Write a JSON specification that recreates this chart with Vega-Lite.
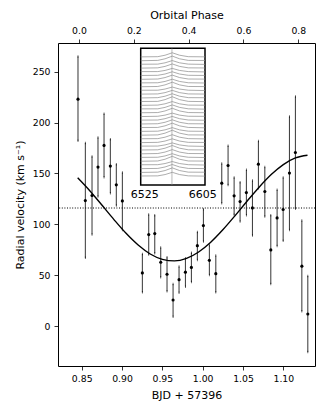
{
  "$schema": "https://vega.github.io/schema/vega-lite/v6.json",
  "width": 257,
  "height": 323,
  "autosize": {"type": "none"},
  "padding": {"left": 58, "top": 43, "right": 14, "bottom": 47},
  "background": "white",
  "config": {
    "font": "DejaVu Sans",
    "view": {"stroke": "black", "strokeWidth": 1},
    "axis": {
      "grid": false, "domain": false, "tickColor": "black", "tickSize": 4, "tickWidth": 0.8,
      "labelColor": "black", "labelFontSize": 9.3, "labelFont": "DejaVu Sans",
      "titleFont": "DejaVu Sans", "titleFontSize": 11, "titleFontWeight": "normal", "titleColor": "black",
      "labelPadding": 4, "titlePadding": 6
    }
  },
  "datasets": {
    "rv": [
      {"t":0.8454,"rv":223,"lo":182,"hi":265},
      {"t":0.8545,"rv":123.3,"lo":67,"hi":180},
      {"t":0.8628,"rv":128.3,"lo":90,"hi":166.7},
      {"t":0.8702,"rv":156.2,"lo":127.3,"hi":185.3},
      {"t":0.8777,"rv":177.5,"lo":146.3,"hi":208.7},
      {"t":0.8855,"rv":157.2,"lo":130.6,"hi":183.7},
      {"t":0.8929,"rv":138.8,"lo":118.4,"hi":159.1},
      {"t":0.9004,"rv":123,"lo":94.5,"hi":150.9},
      {"t":0.9252,"rv":52.2,"lo":33.1,"hi":70.9},
      {"t":0.9331,"rv":89.9,"lo":70.2,"hi":109.6},
      {"t":0.9406,"rv":90.9,"lo":71.5,"hi":109},
      {"t":0.948,"rv":62.7,"lo":47.9,"hi":77.1},
      {"t":0.9558,"rv":50.9,"lo":34.1,"hi":67.6},
      {"t":0.9633,"rv":25.6,"lo":9.2,"hi":41.3},
      {"t":0.9707,"rv":45.6,"lo":32.8,"hi":58.4},
      {"t":0.9786,"rv":52.9,"lo":38.7,"hi":66.6},
      {"t":0.986,"rv":57.6,"lo":43.3,"hi":72.1},
      {"t":0.9934,"rv":79,"lo":65,"hi":92.5},
      {"t":1.0009,"rv":98.7,"lo":83,"hi":114.8},
      {"t":1.0083,"rv":64.6,"lo":50.2,"hi":79.4},
      {"t":1.0163,"rv":51.5,"lo":33.1,"hi":69.2},
      {"t":1.0237,"rv":140.4,"lo":120.7,"hi":159.7},
      {"t":1.0315,"rv":157.8,"lo":138.5,"hi":177.2},
      {"t":1.039,"rv":128,"lo":109.3,"hi":146},
      {"t":1.0464,"rv":122.3,"lo":102.7,"hi":141.4},
      {"t":1.0542,"rv":131.2,"lo":109,"hi":153.5},
      {"t":1.0617,"rv":116.1,"lo":88.9,"hi":143},
      {"t":1.0691,"rv":159.1,"lo":135.5,"hi":181.8},
      {"t":1.0771,"rv":132.2,"lo":107.6,"hi":156.2},
      {"t":1.0845,"rv":74.8,"lo":41.3,"hi":109},
      {"t":1.0923,"rv":106.3,"lo":78.7,"hi":133.9},
      {"t":1.0998,"rv":114.5,"lo":83.7,"hi":146},
      {"t":1.1076,"rv":150.3,"lo":94.5,"hi":206},
      {"t":1.115,"rv":170.6,"lo":115.2,"hi":225.7},
      {"t":1.123,"rv":58.8,"lo":14.5,"hi":103.6},
      {"t":1.1304,"rv":11.8,"lo":-25.6,"hi":49.2}
    ],
    "fit": [
      {"t":0.845,"v":145.7},{"t":0.86,"v":133.0},{"t":0.875,"v":118.9},{"t":0.89,"v":104.6},
      {"t":0.905,"v":91.1},{"t":0.92,"v":79.6},{"t":0.935,"v":70.8},{"t":0.95,"v":65.5},
      {"t":0.965,"v":64.0},{"t":0.98,"v":66.5},{"t":0.995,"v":72.8},{"t":1.01,"v":82.4},
      {"t":1.025,"v":94.6},{"t":1.04,"v":108.3},{"t":1.055,"v":122.7},{"t":1.07,"v":136.5},
      {"t":1.085,"v":148.9},{"t":1.1,"v":158.7},{"t":1.115,"v":165.2},{"t":1.13,"v":167.9}
    ],
    "gamma": [{"g":116}],
    "phase": [{"p":0},{"p":0.8}],
    "labels": [{"w":6525,"t":"6525"},{"w":6605,"t":"6605"}],
    "spec": [
      {"s":0,"w":6519.5,"f":0.02},{"s":0,"w":6543,"f":0.05},{"s":0,"w":6553,"f":0.4},{"s":0,"w":6563,"f":1.0},{"s":0,"w":6573,"f":0.4},{"s":0,"w":6585,"f":0.05},{"s":0,"w":6608,"f":-0.02},
      {"s":1,"w":6519.5,"f":0.97},{"s":1,"w":6543,"f":1.05},{"s":1,"w":6553,"f":1.48},{"s":1,"w":6563,"f":2.2},{"s":1,"w":6573,"f":1.48},{"s":1,"w":6585,"f":1.05},{"s":1,"w":6608,"f":1.03},
      {"s":2,"w":6519.5,"f":2.0},{"s":2,"w":6543,"f":2.05},{"s":2,"w":6553,"f":2.44},{"s":2,"w":6563,"f":3.1},{"s":2,"w":6573,"f":2.44},{"s":2,"w":6585,"f":2.05},{"s":2,"w":6608,"f":2.01},
      {"s":3,"w":6519.5,"f":3.04},{"s":3,"w":6543,"f":3.05},{"s":3,"w":6553,"f":3.36},{"s":3,"w":6563,"f":3.9},{"s":3,"w":6573,"f":3.36},{"s":3,"w":6585,"f":3.05},{"s":3,"w":6608,"f":2.96},
      {"s":4,"w":6519.5,"f":3.98},{"s":4,"w":6543,"f":4.05},{"s":4,"w":6553,"f":4.52},{"s":4,"w":6563,"f":5.3},{"s":4,"w":6573,"f":4.52},{"s":4,"w":6585,"f":4.05},{"s":4,"w":6608,"f":4.02},
      {"s":5,"w":6519.5,"f":5.02},{"s":5,"w":6543,"f":5.05},{"s":5,"w":6553,"f":5.4},{"s":5,"w":6563,"f":6.0},{"s":5,"w":6573,"f":5.4},{"s":5,"w":6585,"f":5.05},{"s":5,"w":6608,"f":4.98},
      {"s":6,"w":6519.5,"f":5.97},{"s":6,"w":6543,"f":6.05},{"s":6,"w":6553,"f":6.44},{"s":6,"w":6563,"f":7.1},{"s":6,"w":6573,"f":6.44},{"s":6,"w":6585,"f":6.05},{"s":6,"w":6608,"f":6.03},
      {"s":7,"w":6519.5,"f":7.0},{"s":7,"w":6543,"f":7.05},{"s":7,"w":6553,"f":7.48},{"s":7,"w":6563,"f":8.2},{"s":7,"w":6573,"f":7.48},{"s":7,"w":6585,"f":7.05},{"s":7,"w":6608,"f":7.01},
      {"s":8,"w":6519.5,"f":8.04},{"s":8,"w":6543,"f":8.05},{"s":8,"w":6553,"f":8.36},{"s":8,"w":6563,"f":8.9},{"s":8,"w":6573,"f":8.36},{"s":8,"w":6585,"f":8.05},{"s":8,"w":6608,"f":7.96},
      {"s":9,"w":6519.5,"f":8.98},{"s":9,"w":6543,"f":9.05},{"s":9,"w":6553,"f":9.4},{"s":9,"w":6563,"f":10.0},{"s":9,"w":6573,"f":9.4},{"s":9,"w":6585,"f":9.05},{"s":9,"w":6608,"f":9.02},
      {"s":10,"w":6519.5,"f":10.02},{"s":10,"w":6543,"f":10.05},{"s":10,"w":6553,"f":10.44},{"s":10,"w":6563,"f":11.1},{"s":10,"w":6573,"f":10.44},{"s":10,"w":6585,"f":10.05},{"s":10,"w":6608,"f":9.98},
      {"s":11,"w":6519.5,"f":10.97},{"s":11,"w":6543,"f":11.05},{"s":11,"w":6553,"f":11.52},{"s":11,"w":6563,"f":12.3},{"s":11,"w":6573,"f":11.52},{"s":11,"w":6585,"f":11.05},{"s":11,"w":6608,"f":11.03},
      {"s":12,"w":6519.5,"f":12.0},{"s":12,"w":6543,"f":12.05},{"s":12,"w":6553,"f":12.4},{"s":12,"w":6563,"f":13.0},{"s":12,"w":6573,"f":12.4},{"s":12,"w":6585,"f":12.05},{"s":12,"w":6608,"f":12.01},
      {"s":13,"w":6519.5,"f":13.04},{"s":13,"w":6543,"f":13.05},{"s":13,"w":6553,"f":13.48},{"s":13,"w":6563,"f":14.2},{"s":13,"w":6573,"f":13.48},{"s":13,"w":6585,"f":13.05},{"s":13,"w":6608,"f":12.96},
      {"s":14,"w":6519.5,"f":13.98},{"s":14,"w":6543,"f":14.05},{"s":14,"w":6553,"f":14.44},{"s":14,"w":6563,"f":15.1},{"s":14,"w":6573,"f":14.44},{"s":14,"w":6585,"f":14.05},{"s":14,"w":6608,"f":14.02},
      {"s":15,"w":6519.5,"f":15.02},{"s":15,"w":6543,"f":15.05},{"s":15,"w":6553,"f":15.4},{"s":15,"w":6563,"f":16.0},{"s":15,"w":6573,"f":15.4},{"s":15,"w":6585,"f":15.05},{"s":15,"w":6608,"f":14.98},
      {"s":16,"w":6519.5,"f":15.97},{"s":16,"w":6543,"f":16.05},{"s":16,"w":6553,"f":16.36},{"s":16,"w":6563,"f":16.9},{"s":16,"w":6573,"f":16.36},{"s":16,"w":6585,"f":16.05},{"s":16,"w":6608,"f":16.03},
      {"s":17,"w":6519.5,"f":17.0},{"s":17,"w":6543,"f":17.05},{"s":17,"w":6553,"f":17.48},{"s":17,"w":6563,"f":18.2},{"s":17,"w":6573,"f":17.48},{"s":17,"w":6585,"f":17.05},{"s":17,"w":6608,"f":17.01},
      {"s":18,"w":6519.5,"f":18.04},{"s":18,"w":6543,"f":18.05},{"s":18,"w":6553,"f":18.44},{"s":18,"w":6563,"f":19.1},{"s":18,"w":6573,"f":18.44},{"s":18,"w":6585,"f":18.05},{"s":18,"w":6608,"f":17.96},
      {"s":19,"w":6519.5,"f":18.98},{"s":19,"w":6543,"f":19.05},{"s":19,"w":6553,"f":19.4},{"s":19,"w":6563,"f":20.0},{"s":19,"w":6573,"f":19.4},{"s":19,"w":6585,"f":19.05},{"s":19,"w":6608,"f":19.02},
      {"s":20,"w":6519.5,"f":20.02},{"s":20,"w":6543,"f":20.05},{"s":20,"w":6553,"f":20.52},{"s":20,"w":6563,"f":21.3},{"s":20,"w":6573,"f":20.52},{"s":20,"w":6585,"f":20.05},{"s":20,"w":6608,"f":19.98},
      {"s":21,"w":6519.5,"f":20.97},{"s":21,"w":6543,"f":21.05},{"s":21,"w":6553,"f":21.44},{"s":21,"w":6563,"f":22.1},{"s":21,"w":6573,"f":21.44},{"s":21,"w":6585,"f":21.05},{"s":21,"w":6608,"f":21.03},
      {"s":22,"w":6519.5,"f":22.0},{"s":22,"w":6543,"f":22.05},{"s":22,"w":6553,"f":22.4},{"s":22,"w":6563,"f":23.0},{"s":22,"w":6573,"f":22.4},{"s":22,"w":6585,"f":22.05},{"s":22,"w":6608,"f":22.01},
      {"s":23,"w":6519.5,"f":23.04},{"s":23,"w":6543,"f":23.05},{"s":23,"w":6553,"f":23.36},{"s":23,"w":6563,"f":23.9},{"s":23,"w":6573,"f":23.36},{"s":23,"w":6585,"f":23.05},{"s":23,"w":6608,"f":22.96},
      {"s":24,"w":6519.5,"f":23.98},{"s":24,"w":6543,"f":24.05},{"s":24,"w":6553,"f":24.48},{"s":24,"w":6563,"f":25.2},{"s":24,"w":6573,"f":24.48},{"s":24,"w":6585,"f":24.05},{"s":24,"w":6608,"f":24.02},
      {"s":25,"w":6519.5,"f":25.02},{"s":25,"w":6543,"f":25.05},{"s":25,"w":6553,"f":25.4},{"s":25,"w":6563,"f":26.0},{"s":25,"w":6573,"f":25.4},{"s":25,"w":6585,"f":25.05},{"s":25,"w":6608,"f":24.98},
      {"s":26,"w":6519.5,"f":25.97},{"s":26,"w":6543,"f":26.05},{"s":26,"w":6553,"f":26.44},{"s":26,"w":6563,"f":27.1},{"s":26,"w":6573,"f":26.44},{"s":26,"w":6585,"f":26.05},{"s":26,"w":6608,"f":26.03},
      {"s":27,"w":6519.5,"f":27.0},{"s":27,"w":6543,"f":27.05},{"s":27,"w":6553,"f":27.4},{"s":27,"w":6563,"f":28.0},{"s":27,"w":6573,"f":27.4},{"s":27,"w":6585,"f":27.05},{"s":27,"w":6608,"f":27.01},
      {"s":28,"w":6519.5,"f":28.04},{"s":28,"w":6543,"f":28.05},{"s":28,"w":6553,"f":28.36},{"s":28,"w":6563,"f":28.9},{"s":28,"w":6573,"f":28.36},{"s":28,"w":6585,"f":28.05},{"s":28,"w":6608,"f":27.96},
      {"s":29,"w":6519.5,"f":28.98},{"s":29,"w":6543,"f":29.05},{"s":29,"w":6553,"f":29.44},{"s":29,"w":6563,"f":30.1},{"s":29,"w":6573,"f":29.44},{"s":29,"w":6585,"f":29.05},{"s":29,"w":6608,"f":29.02},
      {"s":30,"w":6519.5,"f":30.02},{"s":30,"w":6543,"f":30.05},{"s":30,"w":6553,"f":30.4},{"s":30,"w":6563,"f":31.0},{"s":30,"w":6573,"f":30.4},{"s":30,"w":6585,"f":30.05},{"s":30,"w":6608,"f":29.98},
      {"s":31,"w":6519.5,"f":30.97},{"s":31,"w":6543,"f":31.05},{"s":31,"w":6553,"f":31.48},{"s":31,"w":6563,"f":32.2},{"s":31,"w":6573,"f":31.48},{"s":31,"w":6585,"f":31.05},{"s":31,"w":6608,"f":31.03},
      {"s":32,"w":6519.5,"f":32.0},{"s":32,"w":6543,"f":32.05},{"s":32,"w":6553,"f":32.44},{"s":32,"w":6563,"f":33.1},{"s":32,"w":6573,"f":32.44},{"s":32,"w":6585,"f":32.05},{"s":32,"w":6608,"f":32.01}
    ]
  },
  "layer": [
    {
      "layer": [
        {
          "data": {"name": "gamma"},
          "mark": {"type": "rule", "color": "black", "strokeWidth": 1, "strokeDash": [1, 1.6]},
          "encoding": {
            "y": {"field": "g", "type": "quantitative", "scale": {"domain": [-39.3, 278.2], "nice": false, "zero": false},
                  "axis": {"values": [0, 50, 100, 150, 200, 250], "title": "Radial velocity (km s⁻¹)", "titlePadding": 7}}
          }
        },
        {
          "data": {"name": "fit"},
          "mark": {"type": "line", "color": "black", "strokeWidth": 1.4, "interpolate": "monotone"},
          "encoding": {
            "x": {"field": "t", "type": "quantitative", "scale": {"domain": [0.8206, 1.1393], "nice": false, "zero": false},
                  "axis": {"values": [0.85, 0.9, 0.95, 1.0, 1.05, 1.1], "format": ".2f", "title": "BJD + 57396", "orient": "bottom"}},
            "y": {"field": "v", "type": "quantitative"}
          }
        },
        {
          "data": {"name": "rv"},
          "mark": {"type": "rule", "color": "black", "strokeWidth": 0.8},
          "encoding": {
            "x": {"field": "t", "type": "quantitative"},
            "y": {"field": "lo", "type": "quantitative"},
            "y2": {"field": "hi"}
          }
        },
        {
          "data": {"name": "rv"},
          "mark": {"type": "tick", "color": "black", "size": 2.5, "thickness": 0.8},
          "encoding": {
            "x": {"field": "t", "type": "quantitative"},
            "y": {"field": "lo", "type": "quantitative"}
          }
        },
        {
          "data": {"name": "rv"},
          "mark": {"type": "tick", "color": "black", "size": 2.5, "thickness": 0.8},
          "encoding": {
            "x": {"field": "t", "type": "quantitative"},
            "y": {"field": "hi", "type": "quantitative"}
          }
        },
        {
          "data": {"name": "rv"},
          "mark": {"type": "point", "filled": true, "color": "black", "size": 10, "opacity": 1},
          "encoding": {
            "x": {"field": "t", "type": "quantitative"},
            "y": {"field": "rv", "type": "quantitative"}
          }
        }
      ]
    },
    {
      "data": {"name": "phase"},
      "mark": {"type": "point", "opacity": 0},
      "encoding": {
        "x": {"field": "p", "type": "quantitative", "scale": {"domain": [-0.0766, 0.861], "nice": false, "zero": false},
              "axis": {"orient": "top", "values": [0, 0.2, 0.4, 0.6, 0.8], "format": ".1f", "title": "Orbital Phase"}}
      }
    },
    {
      "layer": [
        {
          "data": {"values": [{}]},
          "mark": {"type": "rect", "fill": "white", "stroke": "black", "strokeWidth": 1.5},
          "encoding": {
            "x": {"datum": 6519.5, "type": "quantitative", "scale": {"domain": [6519.5, 6608], "range": [82.7, 147], "nice": false, "zero": false}, "axis": null},
            "x2": {"datum": 6608},
            "y": {"datum": -2.4, "type": "quantitative", "scale": {"domain": [-2.4, 34.3], "range": [142, 5.3], "nice": false, "zero": false}, "axis": null},
            "y2": {"datum": 34.3}
          }
        },
        {
          "data": {"name": "spec"},
          "mark": {"type": "line", "color": "#8a8a8a", "strokeWidth": 0.7},
          "encoding": {
            "x": {"field": "w", "type": "quantitative", "scale": {"domain": [6519.5, 6608], "range": [82.7, 147], "nice": false, "zero": false}, "axis": null},
            "y": {"field": "f", "type": "quantitative", "scale": {"domain": [-2.4, 34.3], "range": [142, 5.3], "nice": false, "zero": false}, "axis": null},
            "detail": {"field": "s", "type": "nominal"}
          }
        },
        {
          "data": {"values": [{}]},
          "mark": {"type": "rule", "color": "#8a8a8a", "strokeWidth": 0.6},
          "encoding": {
            "x": {"datum": 6562.5, "type": "quantitative", "scale": {"domain": [6519.5, 6608], "range": [82.7, 147], "nice": false, "zero": false}, "axis": null},
            "y": {"datum": -2.4, "type": "quantitative", "scale": {"domain": [-2.4, 34.3], "range": [142, 5.3], "nice": false, "zero": false}, "axis": null},
            "y2": {"datum": 34.3}
          }
        },
        {
          "data": {"name": "labels"},
          "mark": {"type": "text", "fontSize": 11, "color": "black", "baseline": "middle", "align": "center", "font": "DejaVu Sans"},
          "encoding": {
            "x": {"field": "w", "type": "quantitative", "scale": {"domain": [6519.5, 6608], "range": [82.7, 147], "nice": false, "zero": false}, "axis": null},
            "y": {"datum": -5.1, "type": "quantitative", "scale": {"domain": [-2.4, 34.3], "range": [142, 5.3], "nice": false, "zero": false}, "axis": null},
            "text": {"field": "t"}
          }
        }
      ]
    }
  ],
  "resolve": {"scale": {"x": "independent", "y": "independent"}, "axis": {"x": "independent", "y": "independent"}}
}
